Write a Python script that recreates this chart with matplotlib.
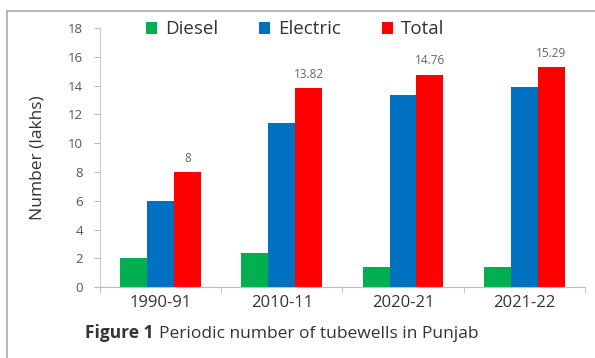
import matplotlib
matplotlib.use("Agg")
import matplotlib.pyplot as plt
import numpy as np
from matplotlib.patches import Rectangle

categories = ["1990-91", "2010-11", "2020-21", "2021-22"]
diesel = [2.0, 2.4, 1.4, 1.4]
electric = [6.0, 11.42, 13.36, 13.89]
total = [8, 13.82, 14.76, 15.29]
total_labels = ["8", "13.82", "14.76", "15.29"]
series_names = ["Diesel", "Electric", "Total"]
colors = ["#00B050", "#0070C0", "#FF0000"]

plt.rcParams['font.family'] = ['Open Sans', 'DejaVu Sans']

fig = plt.figure(figsize=(5.95, 3.58), dpi=100)
ax = fig.add_axes([0.168, 0.198, 0.815, 0.724])

x = np.arange(len(categories))
w = 0.222
for i, (vals, name, c) in enumerate(zip([diesel, electric, total], series_names, colors)):
    ax.bar(x + (i - 1) * w, vals, width=w, color=c, label=name)

for xi, v, lab in zip(x, total, total_labels):
    ax.text(xi + w, v + 0.5, lab, ha="center", va="bottom", fontsize=8.5, color="#666666")

ax.set_xlim(-0.5, 3.5)
ax.set_ylim(0, 18)
ax.set_yticks(range(0, 19, 2))
ax.set_xticks(x)
ax.set_xticklabels(categories, fontsize=12, color="#333333")
ax.tick_params(axis="y", labelsize=9.5, colors="#555555", length=4, color="#bbbbbb", pad=8)
ax.tick_params(axis="x", length=0, pad=6)
ax.set_xticks(np.arange(-0.5, 4.0, 1.0), minor=True)
ax.tick_params(axis="x", which="minor", length=4, color="#bbbbbb")
for s in ["top", "right"]:
    ax.spines[s].set_visible(False)
ax.spines["left"].set_color("#cccccc")
ax.spines["bottom"].set_color("#bbbbbb")
ax.set_ylabel("Number (lakhs)", fontsize=12.5, color="#333333", labelpad=16)

leg = fig.legend(loc="upper left", bbox_to_anchor=(0.217, 0.99), ncol=3, frameon=False,
                 fontsize=13.5, handlelength=0.6, handleheight=0.6, columnspacing=2.2,
                 handletextpad=0.4)
for t in leg.get_texts():
    t.set_color("#333333")

t1 = fig.text(0.143, 0.055, "Figure 1", fontsize=12.5, fontweight="bold", color="#333333")
fig.canvas.draw()
bb = t1.get_window_extent().transformed(fig.transFigure.inverted())
fig.text(bb.x1 + 0.009, 0.055, "Periodic number of tubewells in Punjab", fontsize=12.5, color="#333333")

fig.patches.append(Rectangle((0.012, -0.1), 1.2, 1.069, transform=fig.transFigure,
                             fill=False, edgecolor="#aaaaaa", linewidth=1.2))

fig.savefig("out.png", dpi=100)
